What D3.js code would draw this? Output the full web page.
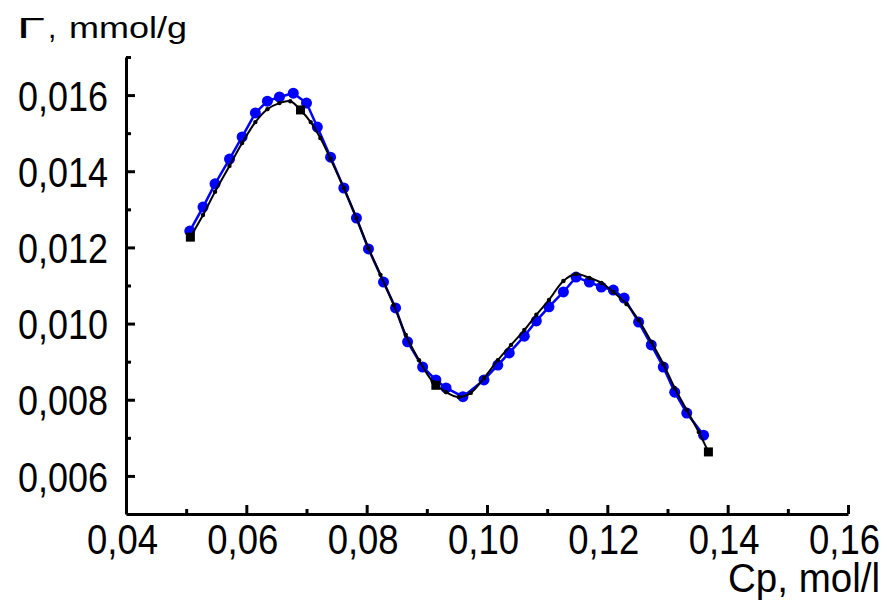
<!DOCTYPE html>
<html lang="en">
<head>
<meta charset="UTF-8">
<title>Adsorption isotherm</title>
<script src="https://d3js.org/d3.v7.min.js"></script>
<style>
    body { margin: 0; background: #fff; }
    .tick text { font-family: "Liberation Sans", Arial, sans-serif; font-size: 42px; fill: #000; }
    .axis-title { font-family: "Liberation Sans", Arial, sans-serif; fill: #000; }
</style>
</head>
<body>
<svg id="chart" width="887" height="603"></svg>
<script>
// blue series (measured points)
const blueX = [0.0506, 0.0528, 0.0548, 0.0572, 0.0593, 0.0615, 0.0635, 0.0655, 0.0678, 0.0700,
               0.0718, 0.0740, 0.0762, 0.0783, 0.0803, 0.0828, 0.0848, 0.0868, 0.0893, 0.0915,
               0.0932, 0.0960, 0.0995, 0.1018, 0.1037, 0.1062, 0.1082, 0.1103, 0.1127, 0.1148,
               0.1170, 0.1190, 0.1210, 0.1228, 0.1252, 0.1273, 0.1293, 0.1312, 0.1332, 0.1360];
const blueY = [0.01243, 0.01306, 0.01367, 0.01432, 0.01490, 0.01553, 0.01584, 0.01595, 0.01605, 0.01579,
               0.01516, 0.01437, 0.01356, 0.01277, 0.01196, 0.01109, 0.01041, 0.00952, 0.00886, 0.00852,
               0.00831, 0.00808, 0.00852, 0.00891, 0.00923, 0.00967, 0.01007, 0.01044, 0.01083, 0.01122,
               0.01109, 0.01096, 0.01088, 0.01067, 0.01004, 0.00944, 0.00886, 0.00820, 0.00765, 0.00707];

// black series (curve)
const blackX = [0.0507, 0.0528, 0.0548, 0.0572, 0.0593, 0.0615, 0.0635, 0.0655, 0.0673, 0.0690,
                0.0707, 0.0723, 0.0740, 0.0762, 0.0783, 0.0803, 0.0823, 0.0845, 0.0865, 0.0887,
                0.0910, 0.0932, 0.0953, 0.0973, 0.0995, 0.1018, 0.1040, 0.1062, 0.1082, 0.1103,
                0.1127, 0.1148, 0.1170, 0.1190, 0.1210, 0.1232, 0.1252, 0.1273, 0.1293, 0.1312,
                0.1332, 0.1352, 0.1368];
const blackY = [0.01227, 0.01285, 0.01346, 0.01414, 0.01474, 0.01529, 0.01563, 0.01579, 0.01584, 0.01561,
                0.01529, 0.01487, 0.01432, 0.01356, 0.01277, 0.01198, 0.01128, 0.01049, 0.00970, 0.00904,
                0.00847, 0.00820, 0.00807, 0.00818, 0.00857, 0.00904, 0.00944, 0.00983, 0.01023, 0.01062,
                0.01112, 0.01130, 0.01120, 0.01107, 0.01083, 0.01051, 0.01009, 0.00952, 0.00894, 0.00831,
                0.00773, 0.00715, 0.00663];

// black square markers
const squareX = [0.0507, 0.0690, 0.0915, 0.1368];
const squareY = [0.01227, 0.01561, 0.00838, 0.00663];

const xTicks = [0.04, 0.06, 0.08, 0.10, 0.12, 0.14, 0.16];
const xMinor = [0.05, 0.07, 0.09, 0.11, 0.13, 0.15];
const yTicks = [0.006, 0.008, 0.010, 0.012, 0.014, 0.016];
const yMinor = [0.007, 0.009, 0.011, 0.013, 0.015, 0.017];

const svg = d3.select("#chart");

const x = d3.scaleLinear().domain([0.04, 0.16]).range([126, 848]);
const y = d3.scaleLinear().domain([0.005, 0.017]).range([514, 57]);

// minor ticks (inward)
svg.append("g")
    .attr("transform", "translate(0,514)")
    .call(d3.axisBottom(x).tickValues(xMinor).tickSizeInner(-5).tickSizeOuter(0).tickFormat(""))
    .call(g => g.select(".domain").remove())
    .selectAll("line").attr("stroke-width", 3);
svg.append("g")
    .attr("transform", "translate(126,0)")
    .call(d3.axisLeft(y).tickValues(yMinor).tickSizeInner(-5).tickSizeOuter(0).tickFormat(""))
    .call(g => g.select(".domain").remove())
    .selectAll("line").attr("stroke-width", 3);

// major axes
const xAxis = svg.append("g")
    .attr("transform", "translate(0,514)")
    .call(d3.axisBottom(x).tickValues(xTicks).tickSizeInner(-9).tickSizeOuter(0).tickPadding(10)
        .tickFormat(d => d3.format(".2f")(d).replace(".", ",")));
xAxis.select(".domain").attr("stroke-width", 3);
xAxis.selectAll("line").attr("stroke-width", 3);
xAxis.selectAll("text").attr("dx", -4)
    .attr("textLength", 71).attr("lengthAdjust", "spacingAndGlyphs");

const yAxis = svg.append("g")
    .attr("transform", "translate(126,0)")
    .call(d3.axisLeft(y).tickValues(yTicks).tickSizeInner(-9).tickSizeOuter(0).tickPadding(18)
        .tickFormat(d => d3.format(".3f")(d).replace(".", ",")));
yAxis.select(".domain").attr("stroke-width", 3);
yAxis.selectAll("line").attr("stroke-width", 3);
yAxis.selectAll("text").attr("dy", "0.36em")
    .attr("textLength", 90).attr("lengthAdjust", "spacingAndGlyphs");

// axis titles
svg.append("text").attr("class", "axis-title")
    .attr("x", 17).attr("y", 38).attr("font-size", 30)
    .attr("font-family", "'Liberation Serif', 'DejaVu Serif', serif")
    .attr("textLength", 28).attr("lengthAdjust", "spacingAndGlyphs")
    .text("Γ");
svg.append("text").attr("class", "axis-title")
    .attr("x", 48).attr("y", 38).attr("font-size", 30).text(",");
svg.append("text").attr("class", "axis-title")
    .attr("x", 69).attr("y", 38).attr("font-size", 30)
    .attr("textLength", 118).attr("lengthAdjust", "spacingAndGlyphs")
    .text("mmol/g");

svg.append("text").attr("class", "axis-title")
    .attr("x", 728).attr("y", 592).attr("font-size", 40)
    .attr("textLength", 152).attr("lengthAdjust", "spacingAndGlyphs")
    .text("Cp, mol/l");

const blue = blueX.map((v, i) => [v, blueY[i]]);
const black = blackX.map((v, i) => [v, blackY[i]]);
const squares = squareX.map((v, i) => [v, squareY[i]]);

const line = d3.line().x(d => x(d[0])).y(d => y(d[1]));

// blue series
svg.append("path").datum(blue)
    .attr("d", line).attr("fill", "none").attr("stroke", "#0000ff").attr("stroke-width", 2.5);
svg.selectAll(".blue-dot").data(blue).enter().append("circle")
    .attr("class", "blue-dot")
    .attr("cx", d => x(d[0])).attr("cy", d => y(d[1])).attr("r", 5.5)
    .attr("fill", "#0000ff");

// black series
svg.append("path").datum(black)
    .attr("d", d3.line().curve(d3.curveCatmullRom).x(d => x(d[0])).y(d => y(d[1])))
    .attr("fill", "none").attr("stroke", "#000").attr("stroke-width", 2);
svg.selectAll(".black-dot").data(black).enter().append("circle")
    .attr("class", "black-dot")
    .attr("cx", d => x(d[0])).attr("cy", d => y(d[1])).attr("r", 2.2)
    .attr("fill", "#000");
svg.selectAll(".black-sq").data(squares).enter().append("rect")
    .attr("class", "black-sq")
    .attr("x", d => x(d[0]) - 4.5).attr("y", d => y(d[1]) - 4.5)
    .attr("width", 9).attr("height", 9)
    .attr("fill", "#000");
</script>
</body>
</html>
